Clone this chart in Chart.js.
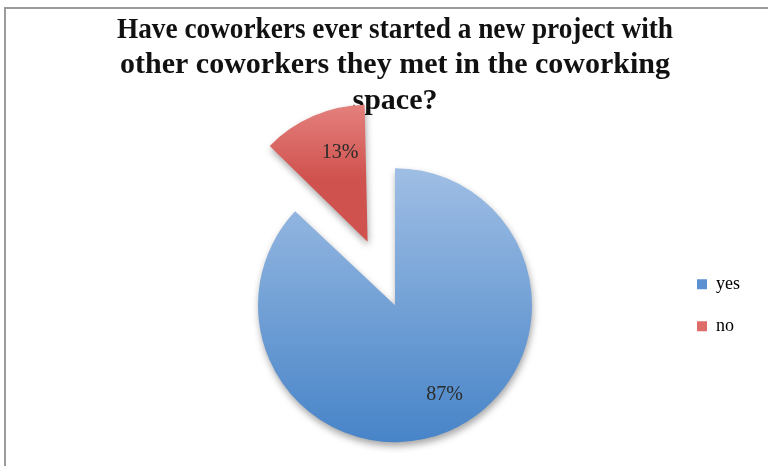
<!DOCTYPE html>
<html>
<head>
<meta charset="utf-8">
<title>Coworking projects</title>
<script src="https://cdn.jsdelivr.net/npm/chart.js@4/dist/chart.umd.min.js"></script>
<style>
  html, body { margin: 0; padding: 0; background: #fff; }
  #wrap { width: 768px; height: 466px; }
</style>
</head>
<body>
<div id="wrap"><canvas id="pieChart" width="768" height="466"></canvas></div>
<script>
// Survey answers (percent)
const answerLabels = ['yes', 'no'];
const answerValues = [87, 13];
const titleLines = [
    'Have coworkers ever started a new project with',
    'other coworkers they met in the coworking',
    'space?'
];

// Slice colours: light top -> dark bottom, plus flat legend swatches
const sliceTop = ['#9fbee4', '#f5a8a5'];
const sliceBottom = ['#4784c8', '#d0524e'];
const legendColors = ['#5b90d1', '#de6d69'];

const PIE_RADIUS = 137;
const NO_OFFSET = 69; // pixels the "no" wedge is pulled out

// Vertical gradient per slice, spanning the slice's own height
function sliceFill(context) {
    const chart = context.chart;
    const area = chart.chartArea;
    const i = context.dataIndex;
    if (!area) return sliceBottom[i];
    const cy = (area.top + area.bottom) / 2;
    let y0 = cy - PIE_RADIUS;
    let y1 = cy + PIE_RADIUS;
    if (i === 1) {
        // exploded wedge sits above the centre
        const shift = NO_OFFSET * Math.cos(Math.PI * 2 * 0.065);
        y0 = cy - shift - PIE_RADIUS;
        y1 = cy - shift;
    }
    const g = chart.ctx.createLinearGradient(0, y0, 0, y1);
    g.addColorStop(0, sliceTop[i]);
    g.addColorStop(1, sliceBottom[i]);
    return g;
}

// Chart.js moves an arc by offset/4 and also grows its radius a bit;
// shrink the radius back so the pulled-out wedge keeps the pie's size
const keepRadius = {
    id: 'keepRadius',
    afterDatasetUpdate(chart, args) {
        const meta = chart.getDatasetMeta(args.index);
        meta.data.forEach(arc => {
            const off = ((arc.options && arc.options.offset) || 0) / 4;
            if (!off) return;
            const fix = 1 - Math.sin(Math.min(Math.PI, arc.circumference || 0));
            arc.outerRadius -= off * fix;
        });
    }
};

// Grey frame around the chart
const framePlugin = {
    id: 'frame',
    beforeDraw(chart) {
        const ctx = chart.ctx;
        ctx.save();
        ctx.strokeStyle = '#9b9b9b';
        ctx.lineWidth = 2;
        ctx.strokeRect(5, 8, 820, 520);
        ctx.restore();
    }
};

// Soft drop shadow under the slices
const shadowPlugin = {
    id: 'sliceShadow',
    beforeDatasetsDraw(chart) {
        const ctx = chart.ctx;
        ctx.save();
        ctx.shadowColor = 'rgba(0,0,0,0.35)';
        ctx.shadowBlur = 7;
        ctx.shadowOffsetX = 1;
        ctx.shadowOffsetY = 4;
    },
    afterDatasetsDraw(chart) {
        chart.ctx.restore();
    }
};

// Percent labels inside each slice
const percentLabels = {
    id: 'percentLabels',
    afterDatasetsDraw(chart) {
        const ctx = chart.ctx;
        const meta = chart.getDatasetMeta(0);
        const r = meta.controller.outerRadius;
        ctx.save();
        ctx.fillStyle = '#2b2b2b';
        ctx.font = '20px "Liberation Serif", serif';
        ctx.textAlign = 'center';
        ctx.textBaseline = 'middle';
        meta.data.forEach((arc, i) => {
            const p = arc.getProps(['x', 'y', 'startAngle', 'endAngle']);
            const mid = (p.startAngle + p.endAngle) / 2;
            const off = (arc.options.offset || 0) / 4;
            const d = off + r * 0.71;
            ctx.fillText(answerValues[i] + '%', p.x + Math.cos(mid) * d + 11, p.y + Math.sin(mid) * d);
        });
        ctx.restore();
    }
};

new Chart(document.getElementById('pieChart'), {
    type: 'pie',
    data: {
        labels: answerLabels,
        datasets: [{
            data: answerValues,
            backgroundColor: sliceFill,
            borderWidth: 0,
            offset: [0, NO_OFFSET * 4],
            radius: PIE_RADIUS
        }]
    },
    options: {
        responsive: false,
        animation: false,
        layout: { padding: { left: 117, right: 18, top: 4, bottom: 0 } },
        plugins: {
            title: {
                display: true,
                text: titleLines,
                fullSize: false,
                color: '#111',
                font: { family: '"Liberation Serif", serif', size: 30, weight: 'bold', lineHeight: 1.17 },
                padding: { top: 9, bottom: 26 }
            },
            legend: {
                position: 'right',
                fullSize: false,
                labels: {
                    boxWidth: 10,
                    boxHeight: 10,
                    padding: 24,
                    color: '#222',
                    font: { family: '"Liberation Serif", serif', size: 18 },
                    generateLabels(chart) {
                        return answerLabels.map((label, i) => ({
                            text: label,
                            fillStyle: legendColors[i],
                            strokeStyle: legendColors[i],
                            lineWidth: 0,
                            hidden: false,
                            index: i
                        }));
                    }
                }
            },
            tooltip: { enabled: false }
        }
    },
    plugins: [keepRadius, framePlugin, shadowPlugin, percentLabels]
});
</script>
</body>
</html>
